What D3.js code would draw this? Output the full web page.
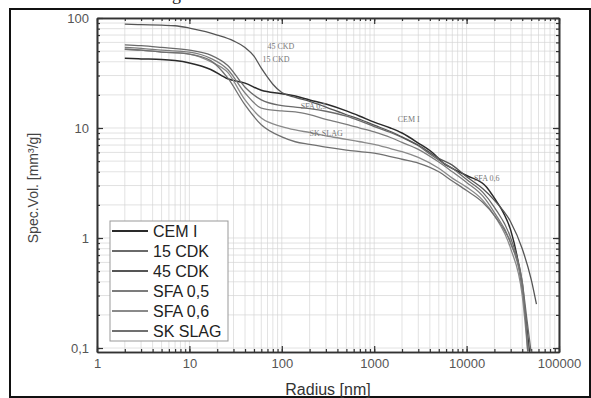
<!DOCTYPE html>
<html>
<head>
<meta charset="utf-8">
<script src="https://cdn.jsdelivr.net/npm/d3@7"></script>
<style>
  body { margin: 0; background: #fff; }
  svg { display: block; font-family: "Liberation Sans", Arial, sans-serif; }
</style>
</head>
<body>
<svg id="chart" width="591" height="398"></svg>
<script>
// pore size distribution, radius in nm, specific volume in mm³/g
const seriesNames = ["CEM I", "15 CDK", "45 CDK", "SFA 0,5", "SFA 0,6", "SK SLAG"];
const seriesColors = ["#2a2a2a", "#6a6a6a", "#555555", "#7c7c7c", "#8a8a8a", "#707070"];

const cemI = [[2,43],[3,42.5],[5,42],[7,41],[10,39],[17,34],[26,28],[40,25.6],[60,22],[100,20.5],[140,19.5],[200,18],[300,16.5],[500,14.3],[700,12.8],[1000,11.3],[1500,10],[2000,9],[3000,7.3],[4350,5.9],[5600,4.8],[7000,4.3],[10000,3.7],[16500,2.9],[20000,2.3],[25000,1.7],[30000,1.18],[37000,0.54],[42000,0.25],[48000,0.09]];
const cdk15 = [[2,57],[3,56],[5,54],[10,51],[17,46],[26,37],[40,23.5],[60,18],[100,16],[140,15.5],[200,15],[300,14.2],[500,12.8],[700,11.6],[1000,10.3],[1500,9.1],[2000,8.2],[3000,6.9],[4000,5.8],[5000,5.1],[7000,4.3],[10000,3.4],[15000,2.6],[20000,1.9],[30000,1.0],[40000,0.4],[45000,0.18],[50000,0.09]];
const cdk45 = [[2,88],[3,87],[5,86],[7,85],[10,81],[15,75],[20,70],[30,62],[40,54],[50,45],[60,35],[70,29],[80,25],[100,21],[140,19],[200,17.5],[300,15.5],[500,13.2],[700,12],[1000,10.6],[1500,9.3],[2000,8.3],[3000,7],[5000,5.3],[7000,4.6],[10000,3.6],[15000,2.8],[20000,2.2],[30000,1.4],[40000,0.8],[50000,0.42],[57000,0.25]];
const sfa05 = [[2,54],[3,53],[5,51],[10,49],[17,43],[26,34],[40,20.8],[60,15.2],[100,14.3],[140,14],[200,13.2],[300,12],[500,10.8],[700,10],[1000,9.2],[1500,8.2],[2000,7.4],[3000,6.4],[5000,4.9],[7000,4],[10000,3.2],[15000,2.4],[20000,1.7],[30000,0.9],[40000,0.35],[47000,0.09]];
const sfa06 = [[2,52],[3,51],[5,49],[10,47],[17,40],[26,32],[40,18],[60,12.3],[100,10.3],[140,9.6],[200,9.1],[300,8.5],[500,7.9],[700,7.5],[1000,7.1],[1500,6.5],[2000,6.1],[3000,5.4],[5000,4.3],[7000,3.5],[10000,2.9],[15000,2.2],[20000,1.6],[30000,0.8],[40000,0.3],[46000,0.09]];
const skSlag = [[2,52],[3,51],[5,49],[10,47],[17,41],[26,28.5],[40,16.2],[60,10.7],[100,8.3],[140,7.5],[200,7.1],[300,6.7],[500,6.3],[700,6.1],[1000,5.9],[1500,5.5],[2000,5.2],[3000,4.8],[5000,4],[7000,3.3],[10000,2.7],[15000,2.1],[20000,1.6],[30000,0.9],[40000,0.4],[46000,0.09]];
const seriesData = [cemI, cdk15, cdk45, sfa05, sfa06, skSlag];

const xTicks = [1, 10, 100, 1000, 10000, 100000];
const xTickLabels = ["1", "10", "100", "1000", "10000", "100000"];
const yTicks = [0.1, 1, 10, 100];
const yTickLabels = ["0,1", "1", "10", "100"];

// curve annotations inside the plot
const annoText = ["45 CKD", "15 CKD", "SFA 0,5", "SK SLAG", "CEM I", "SFA 0,6"];
const annoAt = [[70, 52], [62, 40], [160, 15], [200, 8.4], [1800, 11.4], [12000, 3.3]];

const svg = d3.select("#chart");
const pLeft = 97, pRight = 559, pTop = 18, pBottom = 352;

const x = d3.scaleLog().domain([1, 100000]).range([pLeft, pRight]);
const y = d3.scaleLog().domain([0.092, 100]).range([pBottom, pTop]);

// frame around the figure
svg.append("rect")
  .attr("x", 10).attr("y", 9).attr("width", 580).attr("height", 388)
  .attr("fill", "none").attr("stroke", "#111").attr("stroke-width", 2);

// cut-off caption glyph above the frame
svg.append("text").attr("x", 172).attr("y", 0)
  .attr("font-family", "Liberation Serif").attr("font-size", 18).attr("fill", "#222")
  .text("g");

// minor values for grid and ticks
const xMinor = [];
for (let e = 0; e < 5; e++) for (let m = 1; m < 10; m++) xMinor.push(m * Math.pow(10, e));
xMinor.push(100000);
const yMinor = [];
for (let e = -2; e < 2; e++) for (let m = 1; m < 10; m++) {
  const v = m * Math.pow(10, e);
  if (v >= 0.092) yMinor.push(v);
}
yMinor.push(100);

const grid = svg.append("g").attr("stroke", "#d6d6d6").attr("stroke-width", 0.7);
grid.selectAll(".gx").data(xMinor).enter().append("line")
  .attr("x1", d => x(d)).attr("x2", d => x(d)).attr("y1", pTop).attr("y2", pBottom);
grid.selectAll(".gy").data(yMinor).enter().append("line")
  .attr("y1", d => y(d)).attr("y2", d => y(d)).attr("x1", pLeft).attr("x2", pRight);

// axes: ticks pointing inward on all four sides
const axisStyle = g => {
  g.select(".domain").attr("stroke", "#333").attr("stroke-width", 1.6);
  g.selectAll(".tick line").attr("stroke", "#333").attr("stroke-width", 1.2);
  g.selectAll("text").attr("fill", "#555").attr("font-size", 13);
};

svg.append("g").attr("transform", `translate(0,${pBottom})`)
  .call(d3.axisBottom(x).tickValues(xMinor).tickSize(-3).tickSizeOuter(0).tickFormat(""))
  .call(axisStyle);
svg.append("g").attr("transform", `translate(0,${pBottom})`)
  .call(d3.axisBottom(x).tickValues(xTicks).tickSize(-6).tickSizeOuter(0).tickPadding(7)
    .tickFormat((d, i) => xTickLabels[i]))
  .call(axisStyle);
svg.append("g").attr("transform", `translate(0,${pTop})`)
  .call(d3.axisTop(x).tickValues(xMinor).tickSize(-3).tickSizeOuter(0).tickFormat(""))
  .call(axisStyle);
svg.append("g").attr("transform", `translate(0,${pTop})`)
  .call(d3.axisTop(x).tickValues(xTicks).tickSize(-6).tickSizeOuter(0).tickFormat(""))
  .call(axisStyle);

svg.append("g").attr("transform", `translate(${pLeft},0)`)
  .call(d3.axisLeft(y).tickValues(yMinor).tickSize(-3).tickSizeOuter(0).tickFormat(""))
  .call(axisStyle);
svg.append("g").attr("transform", `translate(${pLeft},0)`)
  .call(d3.axisLeft(y).tickValues(yTicks).tickSize(-6).tickSizeOuter(0).tickPadding(8)
    .tickFormat((d, i) => yTickLabels[i]))
  .call(axisStyle);
svg.append("g").attr("transform", `translate(${pRight},0)`)
  .call(d3.axisRight(y).tickValues(yMinor).tickSize(-3).tickSizeOuter(0).tickFormat(""))
  .call(axisStyle);
svg.append("g").attr("transform", `translate(${pRight},0)`)
  .call(d3.axisRight(y).tickValues(yTicks).tickSize(-6).tickSizeOuter(0).tickFormat(""))
  .call(axisStyle);

// curves
const line = d3.line()
  .x(d => x(d[0]))
  .y(d => y(d[1]))
  .curve(d3.curveMonotoneX);

const plot = svg.append("g");
plot.append("clipPath").attr("id", "clip").append("rect")
  .attr("x", pLeft).attr("y", pTop).attr("width", pRight - pLeft).attr("height", pBottom - pTop);

plot.selectAll(".series")
  .data(seriesData)
  .enter()
  .append("path")
  .attr("clip-path", "url(#clip)")
  .attr("d", d => line(d))
  .attr("fill", "none")
  .attr("stroke", (d, i) => seriesColors[i])
  .attr("stroke-width", (d, i) => i === 0 ? 1.5 : 1.3);

// small annotations on the curves
svg.selectAll(".anno")
  .data(annoText)
  .enter()
  .append("text")
  .attr("x", (d, i) => x(annoAt[i][0]))
  .attr("y", (d, i) => y(annoAt[i][1]))
  .attr("font-family", "Liberation Serif")
  .attr("font-size", 8)
  .attr("fill", "#777")
  .text(d => d);

// legend
const legend = svg.append("g");
legend.append("rect")
  .attr("x", 110).attr("y", 221).attr("width", 118).attr("height", 120)
  .attr("fill", "#fff").attr("stroke", "#999").attr("stroke-width", 1);
const items = legend.selectAll(".item")
  .data(seriesNames)
  .enter()
  .append("g")
  .attr("transform", (d, i) => `translate(0,${231 + i * 20})`);
items.append("line")
  .attr("x1", 112).attr("x2", 148)
  .attr("stroke", (d, i) => seriesColors[i])
  .attr("stroke-width", 1.8);
items.append("text")
  .attr("x", 153).attr("dy", "0.36em")
  .attr("font-size", 16).attr("fill", "#222")
  .text(d => d);

// axis titles
svg.append("text")
  .attr("transform", "translate(38,188) rotate(-90)")
  .attr("text-anchor", "middle").attr("font-size", 14).attr("fill", "#444")
  .text("Spec.Vol. [mm³/g]");
svg.append("text")
  .attr("x", 328).attr("y", 395)
  .attr("text-anchor", "middle").attr("font-size", 16).attr("fill", "#333")
  .text("Radius [nm]");
</script>
</body>
</html>
